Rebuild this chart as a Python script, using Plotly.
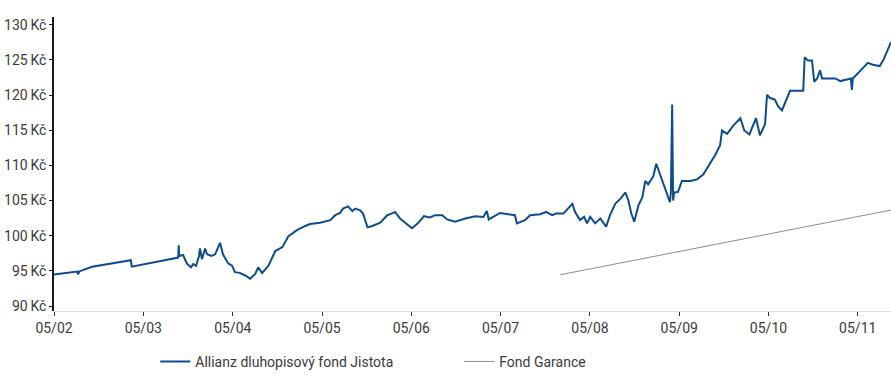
import plotly.graph_objects as go

# --- Data ---
jistota_dates = [
    "2002-05-01", "2002-06-07", "2002-06-27", "2002-08-04", "2002-08-08", "2002-08-12",
    "2002-10-04", "2003-03-11", "2003-03-15", "2003-09-21", "2003-09-23", "2003-09-25",
    "2003-10-11", "2003-10-26", "2003-11-12", "2003-11-21", "2003-12-03", "2003-12-15",
    "2003-12-19", "2003-12-27", "2004-01-09", "2004-01-17", "2004-02-04", "2004-02-19",
    "2004-03-10", "2004-03-22", "2004-04-12", "2004-04-28", "2004-05-10", "2004-05-30",
    "2004-06-21", "2004-07-11", "2004-08-01", "2004-08-13", "2004-08-29", "2004-09-24",
    "2004-10-22", "2004-11-20", "2004-12-14", "2005-01-20", "2005-02-22", "2005-03-13",
    "2005-04-23", "2005-06-04", "2005-06-24", "2005-07-14", "2005-07-26", "2005-08-16",
    "2005-09-02", "2005-09-14", "2005-10-04", "2005-10-16", "2005-11-03", "2005-11-23",
    "2005-12-25", "2006-01-23", "2006-02-09", "2006-02-24", "2006-03-16", "2006-04-10",
    "2006-05-04", "2006-05-28", "2006-06-22", "2006-07-16", "2006-08-07", "2006-09-05",
    "2006-09-25", "2006-10-27", "2006-12-08", "2007-01-18", "2007-02-20", "2007-03-06",
    "2007-03-14", "2007-04-29", "2007-06-09", "2007-06-29", "2007-07-07", "2007-08-09",
    "2007-08-30", "2007-10-10", "2007-11-04", "2007-11-28", "2007-12-14", "2008-01-13",
    "2008-01-25", "2008-02-19", "2008-03-01", "2008-03-21", "2008-04-07", "2008-04-19",
    "2008-05-02", "2008-05-22", "2008-06-12", "2008-07-06", "2008-07-22", "2008-08-12",
    "2008-09-02", "2008-09-23", "2008-10-05", "2008-10-17", "2008-10-29", "2008-11-15",
    "2008-12-01", "2008-12-13", "2008-12-25", "2009-01-15", "2009-01-27", "2009-02-13",
    "2009-02-28", "2009-03-12", "2009-03-24", "2009-03-28", "2009-04-02", "2009-04-06",
    "2009-04-10", "2009-04-26", "2009-05-12", "2009-06-14", "2009-07-13", "2009-08-07",
    "2009-08-27", "2009-09-13", "2009-09-25", "2009-10-15", "2009-10-23", "2009-11-13",
    "2009-12-08", "2010-01-06", "2010-01-22", "2010-02-12", "2010-02-24", "2010-03-11",
    "2010-03-27", "2010-04-17", "2010-04-25", "2010-05-07", "2010-05-27", "2010-06-09",
    "2010-06-25", "2010-07-08", "2010-07-28", "2010-09-20", "2010-09-26", "2010-10-10",
    "2010-10-26", "2010-11-04", "2010-11-16", "2010-11-28", "2010-12-06", "2011-01-01",
    "2011-01-29", "2011-02-19", "2011-03-13", "2011-04-03", "2011-04-07", "2011-04-11",
    "2011-05-17", "2011-06-11", "2011-07-02", "2011-07-30", "2011-08-16", "2011-09-06",
    "2011-09-14",
]
jistota_values = [
    94.49, 94.68, 94.79, 94.90, 94.49, 94.93,
    95.60, 96.53, 95.60, 96.90, 98.65, 97.13,
    97.26, 96.07, 95.51, 95.97, 95.74, 97.13,
    98.19, 96.67, 98.19, 97.36, 97.13, 97.36,
    98.99, 97.36, 96.07, 95.74, 94.82, 94.72,
    94.35, 93.89, 94.58, 95.51, 94.68, 95.74,
    97.82, 98.38, 99.90, 100.83, 101.39, 101.67,
    101.85, 102.22, 102.92, 103.24, 103.85, 104.17,
    103.51, 103.85, 103.61, 103.15, 101.21, 101.39,
    101.85, 102.92, 103.15, 103.38, 102.46, 101.76,
    101.07, 101.76, 102.78, 102.60, 102.92, 102.92,
    102.32, 101.99, 102.46, 102.78, 102.68, 103.51,
    102.32, 103.24, 103.06, 102.92, 101.76, 102.22,
    102.92, 103.06, 103.38, 102.92, 103.15, 103.15,
    103.61, 104.54, 103.38, 102.22, 102.68, 101.76,
    102.68, 101.76, 102.46, 101.29, 102.92, 104.54,
    105.24, 106.15, 105.00, 103.15, 101.99, 104.31,
    105.46, 107.78, 107.32, 108.47, 110.24, 108.57,
    107.08, 105.69, 104.76, 106.25, 118.65, 105.00,
    106.15, 106.25, 107.78, 107.78, 108.01, 108.71,
    109.86, 110.97, 111.49, 112.88, 114.96, 114.49,
    115.65, 116.71, 114.96, 114.40, 115.42, 116.71,
    114.26, 115.88, 120.04, 119.58, 119.35, 118.43,
    117.82, 119.03, 120.60, 120.60, 125.38, 124.90,
    124.90, 121.90, 122.36, 123.51, 122.36, 122.36,
    122.36, 121.99, 122.13, 122.36, 120.74, 122.36,
    123.65, 124.58, 124.31, 124.13, 125.14, 126.76,
    127.54,
]

garance_dates = ["2008-01-01", "2011-09-14"]
garance_values = [94.46, 103.65]

series_names = ["Allianz dluhopisový fond Jistota", "Fond Garance"]
y_ticks = [90, 95, 100, 105, 110, 115, 120, 125, 130]
y_tick_labels = [f"{v}\u2009Kč" for v in y_ticks]

FONT = "Roboto, 'Open Sans', sans-serif"
TEXT = "#3a3a3a"

fig = go.Figure()
fig.add_trace(go.Scatter(
    x=jistota_dates, y=jistota_values, mode="lines", name=series_names[0],
    line=dict(color="#0d4c91", width=2),
))
fig.add_trace(go.Scatter(
    x=garance_dates, y=garance_values, mode="lines", name=series_names[1],
    line=dict(color="#8c8c8c", width=1),
))

fig.update_layout(
    width=891, height=378,
    margin=dict(l=54, r=0, t=17, b=60),
    paper_bgcolor="white", plot_bgcolor="white",
    font=dict(family=FONT, size=14, color=TEXT),
    showlegend=True,
    legend=dict(
        orientation="h", x=0.121, xanchor="left", y=-0.173, yanchor="middle",
        font=dict(family=FONT, size=14, color=TEXT),
        entrywidth=259, itemwidth=30, bgcolor="rgba(0,0,0,0)",
    ),
    xaxis=dict(
        type="date",
        range=[jistota_dates[0], jistota_dates[-1]],
        tick0="2002-05-01", dtick="M12", tickformat="%m/%y",
        showgrid=False, zeroline=False,
        showline=True, linecolor="#dcdcdc", linewidth=1,
        ticks="outside", ticklen=4, tickcolor="#333333", tickwidth=1,
        tickfont=dict(family=FONT, size=14, color=TEXT),
    ),
    yaxis=dict(
        range=[89.3, 131.1],
        tickmode="array", tickvals=y_ticks, ticktext=y_tick_labels,
        showgrid=False, zeroline=False, automargin=False,
        showline=True, linecolor="#1a1a1a", linewidth=1.5,
        ticks="outside", ticklen=3, tickcolor="#1a1a1a",
        tickfont=dict(family=FONT, size=14, color=TEXT),
    ),
)

fig.write_html("out.html")
